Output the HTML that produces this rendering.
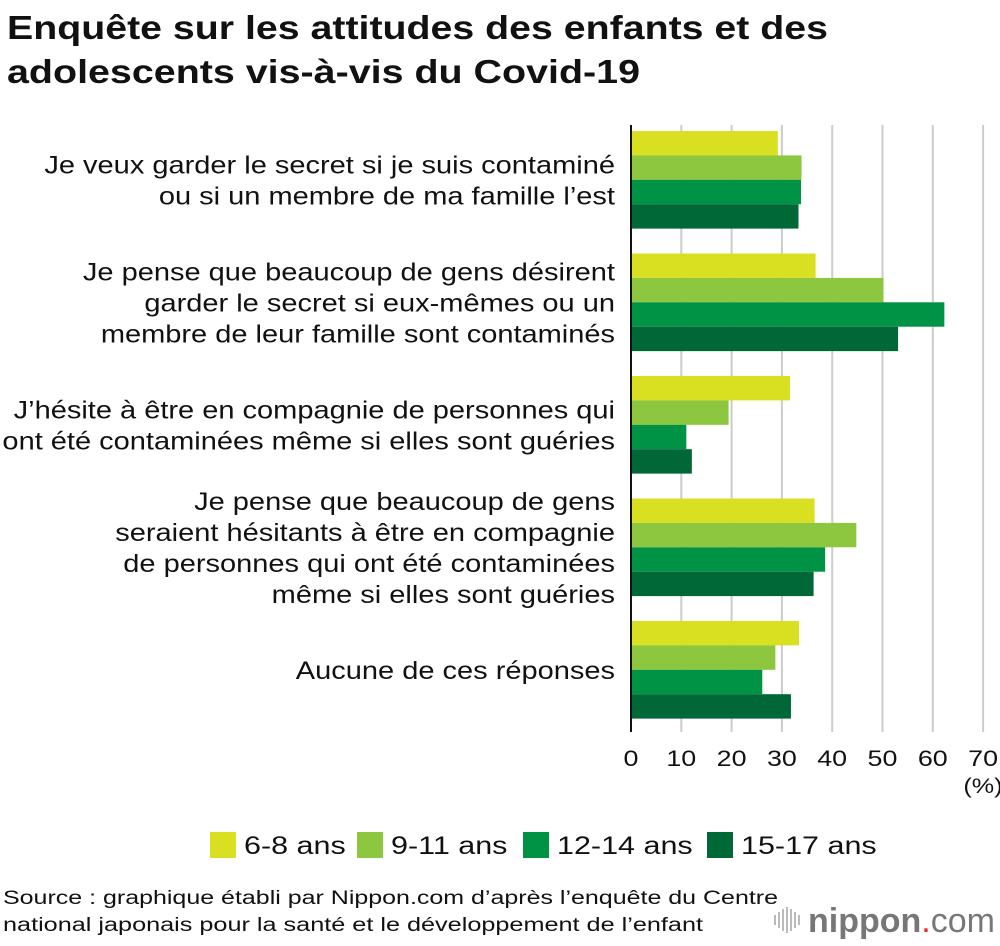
<!DOCTYPE html>
<html><head><meta charset="utf-8"><style>
body{margin:0;background:#fff;font-family:"Liberation Sans",Arial,sans-serif;}
#wrap{position:relative;width:1000px;height:946px;overflow:hidden}
svg text{font-family:"Liberation Sans",Arial,sans-serif}
</style></head><body><div id="wrap">
<svg id="c" width="1000" height="946" style="position:absolute;left:0;top:0">
<text x="7" y="39" font-size="33" font-weight="bold" fill="#111" textLength="821" lengthAdjust="spacingAndGlyphs">Enquête sur les attitudes des enfants et des</text>
<text x="7" y="83" font-size="33" font-weight="bold" fill="#111" textLength="633" lengthAdjust="spacingAndGlyphs">adolescents vis-à-vis du Covid-19</text>
<text x="3" y="904" font-size="19" fill="#111" textLength="775" lengthAdjust="spacingAndGlyphs">Source : graphique établi par Nippon.com d’après l’enquête du Centre</text>
<text x="3" y="931" font-size="19" fill="#111" textLength="700" lengthAdjust="spacingAndGlyphs">national japonais pour la santé et le développement de l’enfant</text>
</svg>
</div>
<script>
const categories=[
["Je veux garder le secret si je suis contaminé","ou si un membre de ma famille l’est"],
["Je pense que beaucoup de gens désirent","garder le secret si eux-mêmes ou un","membre de leur famille sont contaminés"],
["J’hésite à être en compagnie de personnes qui","ont été contaminées même si elles sont guéries"],
["Je pense que beaucoup de gens","seraient hésitants à être en compagnie","de personnes qui ont été contaminées","même si elles sont guéries"],
["Aucune de ces réponses"]];
const seriesNames=["6-8 ans","9-11 ans","12-14 ans","15-17 ans"];
const s68=[29.2,36.7,31.6,36.5,33.4];
const s911=[33.9,50.2,19.4,44.8,28.7];
const s1214=[33.8,62.3,11.0,38.6,26.1];
const s1517=[33.3,53.1,12.1,36.3,31.8];
const ticks=[0,10,20,30,40,50,60,70];
const series=[s68,s911,s1214,s1517];
const colors=["#d9e021","#8dc63f","#009245","#006837"];
const NS="http://www.w3.org/2000/svg";
const svg=document.getElementById('c');
const x=v=>631+v*5.03;
const gTop=i=>131+i*122.5, barH=24.4;
function mk(t,a){const e=document.createElementNS(NS,t);for(const k in a)e.setAttribute(k,a[k]);svg.appendChild(e);return e;}
function stretch(t,k){const w=t.getComputedTextLength();t.setAttribute('textLength',w*k);t.setAttribute('lengthAdjust','spacingAndGlyphs');}
ticks.forEach(t=>{
 if(t>0){const l=mk('line',{x1:x(t),x2:x(t),y1:125,y2:732,stroke:'#ccc','stroke-width':2});
 
 }
 const tx=mk('text',{x:x(t),y:766,'text-anchor':'middle','font-size':22,fill:'#111'});tx.textContent=t;
 stretch(tx,1.22);
 
 
});
const pct=mk('text',{x:983,y:793,'text-anchor':'middle','font-size':21,fill:'#111'});pct.textContent='(%)';
stretch(pct,1.2);


categories.forEach((lines,i)=>{
 series.forEach((s,j)=>{
  const r=mk('rect',{x:x(0),y:gTop(i)+j*barH,width:x(s[i])-x(0),height:barH,fill:colors[j]});
  
  
 });
 const cy=gTop(i)+2*barH, lh=31, y0=cy-(lines.length-1)*lh/2+9;
 lines.forEach((ln,k)=>{
  const t=mk('text',{x:615,y:y0+k*lh,'text-anchor':'end','font-size':25,fill:'#111'});t.textContent=ln;
  stretch(t,1.16);
  
  
 });
});
const ax=mk('line',{x1:631,x2:631,y1:125,y2:732,stroke:'#111','stroke-width':2});


const lx=[210,357,523,707];
seriesNames.forEach((n,j)=>{
 const r=mk('rect',{x:lx[j],y:832,width:26,height:26,fill:colors[j]});
 
 
 const t=mk('text',{x:lx[j]+34,y:854,'font-size':25,fill:'#111'});t.textContent=n;
 stretch(t,1.22);
 
 
});
const lg=mk('g',{});


[0,1,2,3,4,5,6].forEach(k=>{const h=[10,16,22,26,22,16,10][k];const l=document.createElementNS(NS,'line');
 l.setAttribute('x1',775+k*4);l.setAttribute('x2',775+k*4);l.setAttribute('y1',920-h/2);l.setAttribute('y2',920+h/2);
 l.setAttribute('stroke','#bbb');l.setAttribute('stroke-width',2);lg.appendChild(l);});
const lt=mk('text',{x:808,y:932,'font-size':34,fill:'#777',textLength:187,lengthAdjust:'spacingAndGlyphs'});
lt.innerHTML='<tspan font-weight="bold">nippon</tspan><tspan fill="#e8262b">.</tspan><tspan>com</tspan>';


</script></body></html>
